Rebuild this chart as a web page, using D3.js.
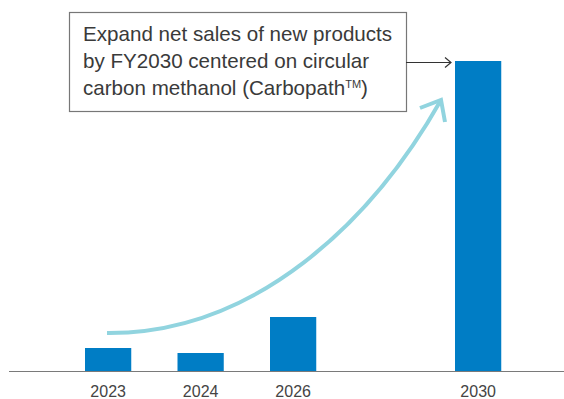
<!DOCTYPE html>
<html>
<head>
<meta charset="utf-8">
<script src="https://cdn.jsdelivr.net/npm/d3@7"></script>
<style>
  body { margin: 0; background: #fff; }
  svg { display: block; font-family: "Liberation Sans", Arial, sans-serif; }
</style>
</head>
<body>
<svg id="chart" width="564" height="399"></svg>
<script>
// data (relative scale, no values shown in the chart)
let slots = ["2023", "2024", "2026", "", "2030"];
let years = ["2023", "2024", "2026", "2030"];
let sales = [23, 18, 54, 310];
let noteLines = ["Expand net sales of new products",
                 "by FY2030 centered on circular",
                 "carbon methanol (Carbopath"];

let width = 564, height = 399;
let baseY = 371;

let svg = d3.select('#chart');

let x = d3.scaleBand()
    .domain(slots)
    .range([38.75, 547.5])
    .paddingInner(0.5)
    .paddingOuter(0.5);

let y = d3.scaleLinear()
    .domain([0, 310])
    .range([baseY, 61]);

// bars
svg.append('g')
    .selectAll('rect')
    .data(years)
    .enter().append('rect')
    .attr('x', (d) => x(d))
    .attr('width', x.bandwidth())
    .attr('y', (d, i) => y(sales[i]))
    .attr('height', (d, i) => baseY - y(sales[i]))
    .attr('fill', '#007dc5');

// baseline
svg.append('line')
    .attr('x1', 9).attr('x2', width)
    .attr('y1', baseY + 0.5).attr('y2', baseY + 0.5)
    .attr('stroke', '#7a7a7a')
    .attr('stroke-width', 1.2);

// year labels (the reference crops them at the bottom edge)
svg.append('g')
    .selectAll('text')
    .data(years)
    .enter().append('text')
    .attr('x', (d) => x(d) + x.bandwidth() / 2)
    .attr('y', 397)
    .attr('text-anchor', 'middle')
    .attr('font-size', 16)
    .attr('fill', '#444')
    .text((d) => d);

// growth arrow
svg.append('path')
    .attr('d', 'M107,333 C255,334 372,222 441,100')
    .attr('fill', 'none')
    .attr('stroke', '#91d4df')
    .attr('stroke-width', 4);

svg.append('path')
    .attr('d', 'M420,108 L441,100 L445,122')
    .attr('fill', 'none')
    .attr('stroke', '#91d4df')
    .attr('stroke-width', 4)
    .attr('stroke-linecap', 'butt')
    .attr('stroke-linejoin', 'miter');

// note box
svg.append('rect')
    .attr('x', 69.5).attr('y', 12.5)
    .attr('width', 337).attr('height', 99)
    .attr('fill', '#fff')
    .attr('stroke', '#777')
    .attr('stroke-width', 1.2);

let note = svg.append('g');
noteLines.forEach((line, i) => {
    let t = note.append('text')
        .attr('x', 83)
        .attr('y', 41 + i * 27)
        .attr('font-size', 20.6)
        .attr('fill', '#3a3a3a')
        .text(line);
    if (i === 2) {
        t.append('tspan').attr('font-size', 11).attr('dy', -7).text('TM');
        t.append('tspan').attr('dy', 7).text(')');
    }
});

// pointer to 2030
svg.append('line')
    .attr('x1', 406).attr('x2', 451)
    .attr('y1', 62.5).attr('y2', 62.5)
    .attr('stroke', '#333')
    .attr('stroke-width', 1.2);
svg.append('path')
    .attr('d', 'M445,57.5 L451,62.5 L445,67.5')
    .attr('fill', 'none')
    .attr('stroke', '#333')
    .attr('stroke-width', 1.2);
</script>
</body>
</html>
